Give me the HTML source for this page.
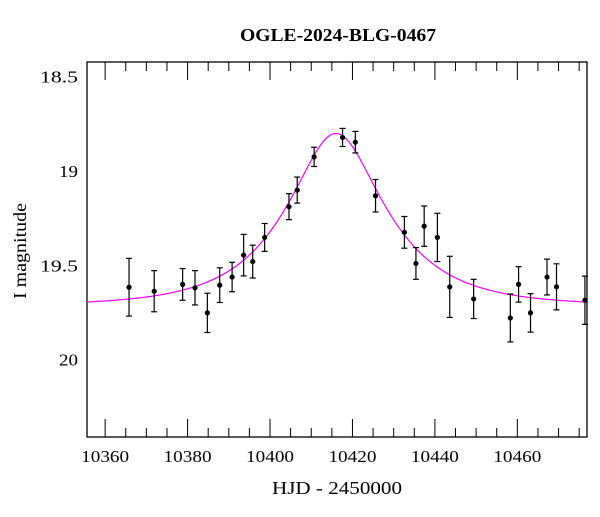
<!DOCTYPE html>
<html><head><meta charset="utf-8"><style>
html,body{margin:0;padding:0;background:#fff;}
svg text{font-family:"Liberation Serif","DejaVu Serif",serif;fill:#000;}
</style></head><body>
<svg id="chart" width="600" height="512" viewBox="0 0 600 512" xmlns="http://www.w3.org/2000/svg">
<rect width="600" height="512" fill="#fff"/>
<text x="338" y="41" font-size="18" text-anchor="middle" font-weight="bold" textLength="196" lengthAdjust="spacingAndGlyphs">OGLE-2024-BLG-0467</text>
<text x="337" y="494" font-size="18" text-anchor="middle" textLength="130" lengthAdjust="spacingAndGlyphs">HJD - 2450000</text>
<text transform="translate(26,251) rotate(-90)" font-size="18" text-anchor="middle" textLength="96" lengthAdjust="spacingAndGlyphs">I magnitude</text>
<g id="axes"></g>
<g id="model"></g>
<g id="points"></g>
</svg>
<script>
const times=[10365.8,10371.9,10378.8,10381.8,10384.8,10387.8,10390.8,10393.6,10395.8,10398.7,10404.6,10406.6,10410.7,10417.6,10420.7,10425.6,10432.6,10435.4,10437.4,10440.6,10443.6,10449.4,10458.3,10460.3,10463.2,10467.2,10469.5,10476.4];
const mags=[19.616,19.637,19.601,19.619,19.752,19.605,19.562,19.446,19.480,19.352,19.189,19.101,18.925,18.822,18.847,19.131,19.325,19.490,19.292,19.352,19.614,19.678,19.779,19.601,19.752,19.562,19.614,19.685];
const errs=[0.153,0.109,0.084,0.091,0.104,0.092,0.078,0.110,0.087,0.074,0.069,0.069,0.051,0.048,0.057,0.086,0.084,0.084,0.107,0.128,0.162,0.104,0.127,0.094,0.102,0.095,0.122,0.128];
const xTicks=[10360,10380,10400,10420,10440,10460];
const yTicks=[18.5,19,19.5,20];
const yTickLabels=["18.5","19","19.5","20"];
const modelT0=10416.0, modelU0=0.465, modelTE=21.2, modelBase=19.715;

const L=87,R=587,T=62,B=437;
const xMin=10355.6,xMax=10476.9,yMin=18.422,yMax=20.41;
function xs(t){return L+(t-xMin)/(xMax-xMin)*(R-L);}
function ys(m){return T+(m-yMin)/(yMax-yMin)*(B-T);}
const NS="http://www.w3.org/2000/svg";
function mk(tag,attrs,parent){const e=document.createElementNS(NS,tag);for(const k in attrs)e.setAttribute(k,attrs[k]);parent.appendChild(e);return e;}
const axes=document.getElementById('axes');
const frame=mk('rect',{x:L,y:T,width:R-L,height:B-T,fill:'none',stroke:'#000','stroke-width':1.3},axes);


for(let t=10360;t<=xMax;t+=5){
  const major=(t%20===0);const len=major?18:9;const x=xs(t);
  const a=mk('line',{x1:x,x2:x,y1:B,y2:B-len,stroke:'#000','stroke-width':1},axes);
  
  
  const b=mk('line',{x1:x,x2:x,y1:T,y2:T+len,stroke:'#000','stroke-width':1},axes);
  
  
}
xTicks.forEach(t=>{
  const tx=mk('text',{x:xs(t),y:B+25,'font-size':17,'text-anchor':'middle',textLength:48,lengthAdjust:'spacingAndGlyphs'},axes);
  tx.textContent=String(t);
  
  
});
for(let i=5;i<=24;i++){
  const m=i/10;const major=(i%5===0);const len=major?19:9;const y=ys(m);
  const a=mk('line',{x1:L,x2:L+len,y1:y,y2:y,stroke:'#000','stroke-width':1},axes);
  
  
  const b=mk('line',{x1:R,x2:R-len,y1:y,y2:y,stroke:'#000','stroke-width':1},axes);
  
  
}
yTicks.forEach((m,i)=>{
  const lbl=yTickLabels[i];
  const tx=mk('text',{x:78,y:ys(m)+6,'font-size':17,'text-anchor':'end',textLength:lbl.length*9.5,lengthAdjust:'spacingAndGlyphs'},axes);
  tx.textContent=lbl;
  
  
});
function amp(u){return (u*u+2)/(u*Math.sqrt(u*u+4));}
let d='';
for(let px=L;px<=R;px+=1){
  const t=xMin+(px-L)/(R-L)*(xMax-xMin);
  const u=Math.sqrt(modelU0*modelU0+Math.pow((t-modelT0)/modelTE,2));
  const m=modelBase-2.5*Math.log10(amp(u));
  d+=(px===L?'M':'L')+px.toFixed(1)+','+ys(m).toFixed(2);
}
const path=mk('path',{d:d,fill:'none',stroke:'#ff00ff','stroke-width':1.2},document.getElementById('model'));


const pg=document.getElementById('points');
times.forEach((t,i)=>{
  const x=xs(t),y=ys(mags[i]),y1=ys(mags[i]-errs[i]),y2=ys(mags[i]+errs[i]);
  const g=mk('g',{},pg);
  
  
  mk('line',{x1:x,x2:x,y1:y1,y2:y2,stroke:'#000','stroke-width':1.2},g);
  mk('line',{x1:x-3,x2:x+3,y1:y1,y2:y1,stroke:'#000','stroke-width':1.2},g);
  mk('line',{x1:x-3,x2:x+3,y1:y2,y2:y2,stroke:'#000','stroke-width':1.2},g);
  mk('circle',{cx:x,cy:y,r:2.6,fill:'#000'},g);
});
</script>
</body></html>
